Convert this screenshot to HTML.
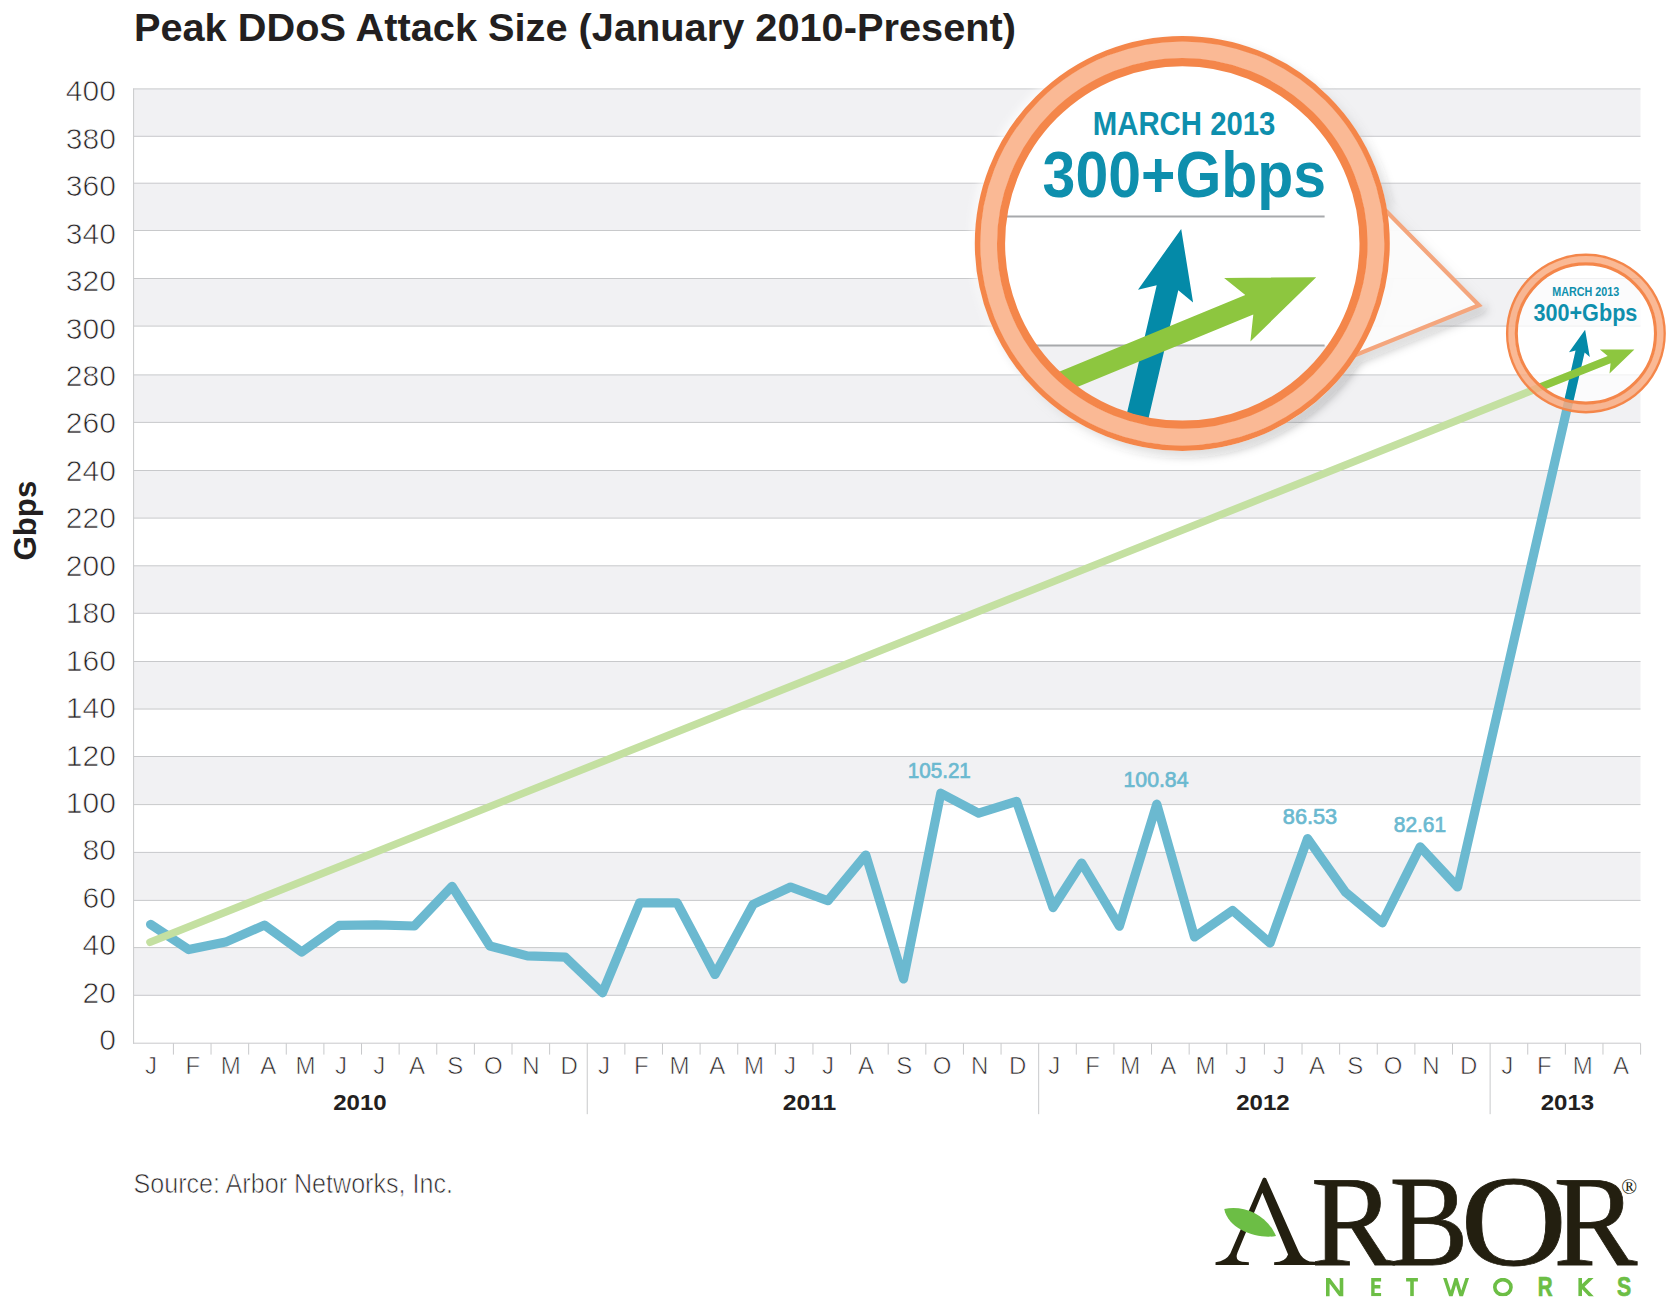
<!DOCTYPE html>
<html><head><meta charset="utf-8"><title>Peak DDoS Attack Size</title>
<style>html,body{margin:0;padding:0;background:#fff;overflow:hidden;}svg{display:block;}text{font-family:"Liberation Sans",sans-serif;}.ser{font-family:"Liberation Serif",serif;}</style></head><body>
<svg width="1674" height="1304" viewBox="0 0 1674 1304">
<defs>
<filter id="sh" x="-20%" y="-20%" width="140%" height="140%"><feGaussianBlur in="SourceAlpha" stdDeviation="5" result="b1"/><feOffset in="b1" dx="4.5" dy="5" result="o1"/><feFlood flood-color="#000" flood-opacity="0.26"/><feComposite in2="o1" operator="in" result="s1"/><feGaussianBlur in="SourceAlpha" stdDeviation="4" result="b2"/><feOffset in="b2" dx="-3" dy="-2" result="o2"/><feFlood flood-color="#fff" flood-opacity="0.85"/><feComposite in2="o2" operator="in" result="s2"/><feMerge><feMergeNode in="s2"/><feMergeNode in="s1"/><feMergeNode in="SourceGraphic"/></feMerge></filter>
<clipPath id="cbig"><circle cx="1182.3" cy="243.4" r="178"/></clipPath>
<clipPath id="csm"><circle cx="1585.9" cy="333.5" r="68.6"/></clipPath>
</defs>
<rect width="1674" height="1304" fill="#fff"/>
<text x="133.9" y="40.9" font-size="39.5" font-weight="bold" fill="#231f20" textLength="882.1" lengthAdjust="spacingAndGlyphs">Peak DDoS Attack Size (January 2010-Present)</text>
<rect x="133.6" y="947.60" width="1506.9" height="47.70" fill="#f1f1f3"/>
<rect x="133.6" y="852.40" width="1506.9" height="48.00" fill="#f1f1f3"/>
<rect x="133.6" y="756.50" width="1506.9" height="48.10" fill="#f1f1f3"/>
<rect x="133.6" y="661.50" width="1506.9" height="47.55" fill="#f1f1f3"/>
<rect x="133.6" y="565.80" width="1506.9" height="47.50" fill="#f1f1f3"/>
<rect x="133.6" y="470.50" width="1506.9" height="47.60" fill="#f1f1f3"/>
<rect x="133.6" y="374.90" width="1506.9" height="47.50" fill="#f1f1f3"/>
<rect x="133.6" y="278.50" width="1506.9" height="47.60" fill="#f1f1f3"/>
<rect x="133.6" y="183.20" width="1506.9" height="47.30" fill="#f1f1f3"/>
<rect x="133.6" y="88.90" width="1506.9" height="47.40" fill="#f1f1f3"/>
<line x1="133.6" y1="1043.20" x2="1640.5" y2="1043.20" stroke="#c8c9cb" stroke-width="1"/>
<line x1="133.6" y1="995.30" x2="1640.5" y2="995.30" stroke="#c8c9cb" stroke-width="1"/>
<line x1="133.6" y1="947.60" x2="1640.5" y2="947.60" stroke="#c8c9cb" stroke-width="1"/>
<line x1="133.6" y1="900.40" x2="1640.5" y2="900.40" stroke="#c8c9cb" stroke-width="1"/>
<line x1="133.6" y1="852.40" x2="1640.5" y2="852.40" stroke="#c8c9cb" stroke-width="1"/>
<line x1="133.6" y1="804.60" x2="1640.5" y2="804.60" stroke="#c8c9cb" stroke-width="1"/>
<line x1="133.6" y1="756.50" x2="1640.5" y2="756.50" stroke="#c8c9cb" stroke-width="1"/>
<line x1="133.6" y1="709.05" x2="1640.5" y2="709.05" stroke="#c8c9cb" stroke-width="1"/>
<line x1="133.6" y1="661.50" x2="1640.5" y2="661.50" stroke="#c8c9cb" stroke-width="1"/>
<line x1="133.6" y1="613.30" x2="1640.5" y2="613.30" stroke="#c8c9cb" stroke-width="1"/>
<line x1="133.6" y1="565.80" x2="1640.5" y2="565.80" stroke="#c8c9cb" stroke-width="1"/>
<line x1="133.6" y1="518.10" x2="1640.5" y2="518.10" stroke="#c8c9cb" stroke-width="1"/>
<line x1="133.6" y1="470.50" x2="1640.5" y2="470.50" stroke="#c8c9cb" stroke-width="1"/>
<line x1="133.6" y1="422.40" x2="1640.5" y2="422.40" stroke="#c8c9cb" stroke-width="1"/>
<line x1="133.6" y1="374.90" x2="1640.5" y2="374.90" stroke="#c8c9cb" stroke-width="1"/>
<line x1="133.6" y1="326.10" x2="1640.5" y2="326.10" stroke="#c8c9cb" stroke-width="1"/>
<line x1="133.6" y1="278.50" x2="1640.5" y2="278.50" stroke="#c8c9cb" stroke-width="1"/>
<line x1="133.6" y1="230.50" x2="1640.5" y2="230.50" stroke="#c8c9cb" stroke-width="1"/>
<line x1="133.6" y1="183.20" x2="1640.5" y2="183.20" stroke="#c8c9cb" stroke-width="1"/>
<line x1="133.6" y1="136.30" x2="1640.5" y2="136.30" stroke="#c8c9cb" stroke-width="1"/>
<line x1="133.6" y1="88.90" x2="1640.5" y2="88.90" stroke="#c8c9cb" stroke-width="1"/>
<line x1="133.6" y1="88.30" x2="133.6" y2="1043.90" stroke="#c8c9cb" stroke-width="1"/>
<line x1="173.42" y1="1043.30" x2="173.42" y2="1054.6" stroke="#c8c9cb" stroke-width="1"/>
<line x1="211.04" y1="1043.30" x2="211.04" y2="1054.6" stroke="#c8c9cb" stroke-width="1"/>
<line x1="248.66" y1="1043.30" x2="248.66" y2="1054.6" stroke="#c8c9cb" stroke-width="1"/>
<line x1="286.28" y1="1043.30" x2="286.28" y2="1054.6" stroke="#c8c9cb" stroke-width="1"/>
<line x1="323.90" y1="1043.30" x2="323.90" y2="1054.6" stroke="#c8c9cb" stroke-width="1"/>
<line x1="361.52" y1="1043.30" x2="361.52" y2="1054.6" stroke="#c8c9cb" stroke-width="1"/>
<line x1="399.14" y1="1043.30" x2="399.14" y2="1054.6" stroke="#c8c9cb" stroke-width="1"/>
<line x1="436.76" y1="1043.30" x2="436.76" y2="1054.6" stroke="#c8c9cb" stroke-width="1"/>
<line x1="474.38" y1="1043.30" x2="474.38" y2="1054.6" stroke="#c8c9cb" stroke-width="1"/>
<line x1="512.00" y1="1043.30" x2="512.00" y2="1054.6" stroke="#c8c9cb" stroke-width="1"/>
<line x1="549.62" y1="1043.30" x2="549.62" y2="1054.6" stroke="#c8c9cb" stroke-width="1"/>
<line x1="587.24" y1="1043.30" x2="587.24" y2="1114.2" stroke="#c8c9cb" stroke-width="1"/>
<line x1="624.86" y1="1043.30" x2="624.86" y2="1054.6" stroke="#c8c9cb" stroke-width="1"/>
<line x1="662.48" y1="1043.30" x2="662.48" y2="1054.6" stroke="#c8c9cb" stroke-width="1"/>
<line x1="700.10" y1="1043.30" x2="700.10" y2="1054.6" stroke="#c8c9cb" stroke-width="1"/>
<line x1="737.72" y1="1043.30" x2="737.72" y2="1054.6" stroke="#c8c9cb" stroke-width="1"/>
<line x1="775.34" y1="1043.30" x2="775.34" y2="1054.6" stroke="#c8c9cb" stroke-width="1"/>
<line x1="812.96" y1="1043.30" x2="812.96" y2="1054.6" stroke="#c8c9cb" stroke-width="1"/>
<line x1="850.58" y1="1043.30" x2="850.58" y2="1054.6" stroke="#c8c9cb" stroke-width="1"/>
<line x1="888.20" y1="1043.30" x2="888.20" y2="1054.6" stroke="#c8c9cb" stroke-width="1"/>
<line x1="925.82" y1="1043.30" x2="925.82" y2="1054.6" stroke="#c8c9cb" stroke-width="1"/>
<line x1="963.44" y1="1043.30" x2="963.44" y2="1054.6" stroke="#c8c9cb" stroke-width="1"/>
<line x1="1001.06" y1="1043.30" x2="1001.06" y2="1054.6" stroke="#c8c9cb" stroke-width="1"/>
<line x1="1038.68" y1="1043.30" x2="1038.68" y2="1114.2" stroke="#c8c9cb" stroke-width="1"/>
<line x1="1076.30" y1="1043.30" x2="1076.30" y2="1054.6" stroke="#c8c9cb" stroke-width="1"/>
<line x1="1113.92" y1="1043.30" x2="1113.92" y2="1054.6" stroke="#c8c9cb" stroke-width="1"/>
<line x1="1151.54" y1="1043.30" x2="1151.54" y2="1054.6" stroke="#c8c9cb" stroke-width="1"/>
<line x1="1189.16" y1="1043.30" x2="1189.16" y2="1054.6" stroke="#c8c9cb" stroke-width="1"/>
<line x1="1226.78" y1="1043.30" x2="1226.78" y2="1054.6" stroke="#c8c9cb" stroke-width="1"/>
<line x1="1264.40" y1="1043.30" x2="1264.40" y2="1054.6" stroke="#c8c9cb" stroke-width="1"/>
<line x1="1302.02" y1="1043.30" x2="1302.02" y2="1054.6" stroke="#c8c9cb" stroke-width="1"/>
<line x1="1339.64" y1="1043.30" x2="1339.64" y2="1054.6" stroke="#c8c9cb" stroke-width="1"/>
<line x1="1377.26" y1="1043.30" x2="1377.26" y2="1054.6" stroke="#c8c9cb" stroke-width="1"/>
<line x1="1414.88" y1="1043.30" x2="1414.88" y2="1054.6" stroke="#c8c9cb" stroke-width="1"/>
<line x1="1452.50" y1="1043.30" x2="1452.50" y2="1054.6" stroke="#c8c9cb" stroke-width="1"/>
<line x1="1490.12" y1="1043.30" x2="1490.12" y2="1114.2" stroke="#c8c9cb" stroke-width="1"/>
<line x1="1527.74" y1="1043.30" x2="1527.74" y2="1054.6" stroke="#c8c9cb" stroke-width="1"/>
<line x1="1565.36" y1="1043.30" x2="1565.36" y2="1054.6" stroke="#c8c9cb" stroke-width="1"/>
<line x1="1602.98" y1="1043.30" x2="1602.98" y2="1054.6" stroke="#c8c9cb" stroke-width="1"/>
<line x1="1640.60" y1="1043.30" x2="1640.60" y2="1054.6" stroke="#c8c9cb" stroke-width="1"/>
<text x="115.9" y="1050.10" font-size="30" fill="#2a2628" stroke="#fff" stroke-width="0.75" text-anchor="end">0</text>
<text x="115.9" y="1002.67" font-size="30" fill="#2a2628" stroke="#fff" stroke-width="0.75" text-anchor="end">20</text>
<text x="115.9" y="955.23" font-size="30" fill="#2a2628" stroke="#fff" stroke-width="0.75" text-anchor="end">40</text>
<text x="115.9" y="907.80" font-size="30" fill="#2a2628" stroke="#fff" stroke-width="0.75" text-anchor="end">60</text>
<text x="115.9" y="860.36" font-size="30" fill="#2a2628" stroke="#fff" stroke-width="0.75" text-anchor="end">80</text>
<text x="115.9" y="812.93" font-size="30" fill="#2a2628" stroke="#fff" stroke-width="0.75" text-anchor="end">100</text>
<text x="115.9" y="765.50" font-size="30" fill="#2a2628" stroke="#fff" stroke-width="0.75" text-anchor="end">120</text>
<text x="115.9" y="718.06" font-size="30" fill="#2a2628" stroke="#fff" stroke-width="0.75" text-anchor="end">140</text>
<text x="115.9" y="670.63" font-size="30" fill="#2a2628" stroke="#fff" stroke-width="0.75" text-anchor="end">160</text>
<text x="115.9" y="623.19" font-size="30" fill="#2a2628" stroke="#fff" stroke-width="0.75" text-anchor="end">180</text>
<text x="115.9" y="575.76" font-size="30" fill="#2a2628" stroke="#fff" stroke-width="0.75" text-anchor="end">200</text>
<text x="115.9" y="528.33" font-size="30" fill="#2a2628" stroke="#fff" stroke-width="0.75" text-anchor="end">220</text>
<text x="115.9" y="480.89" font-size="30" fill="#2a2628" stroke="#fff" stroke-width="0.75" text-anchor="end">240</text>
<text x="115.9" y="433.46" font-size="30" fill="#2a2628" stroke="#fff" stroke-width="0.75" text-anchor="end">260</text>
<text x="115.9" y="386.02" font-size="30" fill="#2a2628" stroke="#fff" stroke-width="0.75" text-anchor="end">280</text>
<text x="115.9" y="338.59" font-size="30" fill="#2a2628" stroke="#fff" stroke-width="0.75" text-anchor="end">300</text>
<text x="115.9" y="291.16" font-size="30" fill="#2a2628" stroke="#fff" stroke-width="0.75" text-anchor="end">320</text>
<text x="115.9" y="243.72" font-size="30" fill="#2a2628" stroke="#fff" stroke-width="0.75" text-anchor="end">340</text>
<text x="115.9" y="196.29" font-size="30" fill="#2a2628" stroke="#fff" stroke-width="0.75" text-anchor="end">360</text>
<text x="115.9" y="148.85" font-size="30" fill="#2a2628" stroke="#fff" stroke-width="0.75" text-anchor="end">380</text>
<text x="115.9" y="101.42" font-size="30" fill="#2a2628" stroke="#fff" stroke-width="0.75" text-anchor="end">400</text>
<text x="151.12" y="1073.6" font-size="24" fill="#2a2628" stroke="#fff" stroke-width="0.65" text-anchor="middle">J</text>
<text x="192.91" y="1073.6" font-size="24" fill="#2a2628" stroke="#fff" stroke-width="0.65" text-anchor="middle">F</text>
<text x="230.82" y="1073.6" font-size="24" fill="#2a2628" stroke="#fff" stroke-width="0.65" text-anchor="middle">M</text>
<text x="268.36" y="1073.6" font-size="24" fill="#2a2628" stroke="#fff" stroke-width="0.65" text-anchor="middle">A</text>
<text x="305.42" y="1073.6" font-size="24" fill="#2a2628" stroke="#fff" stroke-width="0.65" text-anchor="middle">M</text>
<text x="341.12" y="1073.6" font-size="24" fill="#2a2628" stroke="#fff" stroke-width="0.65" text-anchor="middle">J</text>
<text x="379.22" y="1073.6" font-size="24" fill="#2a2628" stroke="#fff" stroke-width="0.65" text-anchor="middle">J</text>
<text x="417.06" y="1073.6" font-size="24" fill="#2a2628" stroke="#fff" stroke-width="0.65" text-anchor="middle">A</text>
<text x="455.36" y="1073.6" font-size="24" fill="#2a2628" stroke="#fff" stroke-width="0.65" text-anchor="middle">S</text>
<text x="493.39" y="1073.6" font-size="24" fill="#2a2628" stroke="#fff" stroke-width="0.65" text-anchor="middle">O</text>
<text x="530.81" y="1073.6" font-size="24" fill="#2a2628" stroke="#fff" stroke-width="0.65" text-anchor="middle">N</text>
<text x="569.17" y="1073.6" font-size="24" fill="#2a2628" stroke="#fff" stroke-width="0.65" text-anchor="middle">D</text>
<text x="603.92" y="1073.6" font-size="24" fill="#2a2628" stroke="#fff" stroke-width="0.65" text-anchor="middle">J</text>
<text x="641.41" y="1073.6" font-size="24" fill="#2a2628" stroke="#fff" stroke-width="0.65" text-anchor="middle">F</text>
<text x="679.42" y="1073.6" font-size="24" fill="#2a2628" stroke="#fff" stroke-width="0.65" text-anchor="middle">M</text>
<text x="717.36" y="1073.6" font-size="24" fill="#2a2628" stroke="#fff" stroke-width="0.65" text-anchor="middle">A</text>
<text x="754.12" y="1073.6" font-size="24" fill="#2a2628" stroke="#fff" stroke-width="0.65" text-anchor="middle">M</text>
<text x="790.02" y="1073.6" font-size="24" fill="#2a2628" stroke="#fff" stroke-width="0.65" text-anchor="middle">J</text>
<text x="827.92" y="1073.6" font-size="24" fill="#2a2628" stroke="#fff" stroke-width="0.65" text-anchor="middle">J</text>
<text x="865.96" y="1073.6" font-size="24" fill="#2a2628" stroke="#fff" stroke-width="0.65" text-anchor="middle">A</text>
<text x="904.16" y="1073.6" font-size="24" fill="#2a2628" stroke="#fff" stroke-width="0.65" text-anchor="middle">S</text>
<text x="941.99" y="1073.6" font-size="24" fill="#2a2628" stroke="#fff" stroke-width="0.65" text-anchor="middle">O</text>
<text x="979.71" y="1073.6" font-size="24" fill="#2a2628" stroke="#fff" stroke-width="0.65" text-anchor="middle">N</text>
<text x="1017.67" y="1073.6" font-size="24" fill="#2a2628" stroke="#fff" stroke-width="0.65" text-anchor="middle">D</text>
<text x="1054.32" y="1073.6" font-size="24" fill="#2a2628" stroke="#fff" stroke-width="0.65" text-anchor="middle">J</text>
<text x="1092.61" y="1073.6" font-size="24" fill="#2a2628" stroke="#fff" stroke-width="0.65" text-anchor="middle">F</text>
<text x="1130.22" y="1073.6" font-size="24" fill="#2a2628" stroke="#fff" stroke-width="0.65" text-anchor="middle">M</text>
<text x="1168.16" y="1073.6" font-size="24" fill="#2a2628" stroke="#fff" stroke-width="0.65" text-anchor="middle">A</text>
<text x="1205.42" y="1073.6" font-size="24" fill="#2a2628" stroke="#fff" stroke-width="0.65" text-anchor="middle">M</text>
<text x="1241.02" y="1073.6" font-size="24" fill="#2a2628" stroke="#fff" stroke-width="0.65" text-anchor="middle">J</text>
<text x="1279.12" y="1073.6" font-size="24" fill="#2a2628" stroke="#fff" stroke-width="0.65" text-anchor="middle">J</text>
<text x="1316.96" y="1073.6" font-size="24" fill="#2a2628" stroke="#fff" stroke-width="0.65" text-anchor="middle">A</text>
<text x="1355.26" y="1073.6" font-size="24" fill="#2a2628" stroke="#fff" stroke-width="0.65" text-anchor="middle">S</text>
<text x="1393.09" y="1073.6" font-size="24" fill="#2a2628" stroke="#fff" stroke-width="0.65" text-anchor="middle">O</text>
<text x="1431.01" y="1073.6" font-size="24" fill="#2a2628" stroke="#fff" stroke-width="0.65" text-anchor="middle">N</text>
<text x="1468.67" y="1073.6" font-size="24" fill="#2a2628" stroke="#fff" stroke-width="0.65" text-anchor="middle">D</text>
<text x="1507.32" y="1073.6" font-size="24" fill="#2a2628" stroke="#fff" stroke-width="0.65" text-anchor="middle">J</text>
<text x="1544.41" y="1073.6" font-size="24" fill="#2a2628" stroke="#fff" stroke-width="0.65" text-anchor="middle">F</text>
<text x="1582.72" y="1073.6" font-size="24" fill="#2a2628" stroke="#fff" stroke-width="0.65" text-anchor="middle">M</text>
<text x="1620.96" y="1073.6" font-size="24" fill="#2a2628" stroke="#fff" stroke-width="0.65" text-anchor="middle">A</text>
<text x="360" y="1110" font-size="22" font-weight="bold" fill="#231f20" text-anchor="middle" textLength="53.5" lengthAdjust="spacingAndGlyphs">2010</text>
<text x="809.5" y="1110" font-size="22" font-weight="bold" fill="#231f20" text-anchor="middle" textLength="53.5" lengthAdjust="spacingAndGlyphs">2011</text>
<text x="1263" y="1110" font-size="22" font-weight="bold" fill="#231f20" text-anchor="middle" textLength="53.5" lengthAdjust="spacingAndGlyphs">2012</text>
<text x="1567.5" y="1110" font-size="22" font-weight="bold" fill="#231f20" text-anchor="middle" textLength="53.5" lengthAdjust="spacingAndGlyphs">2013</text>
<text transform="translate(35.8,560.6) rotate(-90)" font-size="31.5" font-weight="bold" fill="#231f20" textLength="80" lengthAdjust="spacingAndGlyphs">Gbps</text>
<text x="133.5" y="1192.6" font-size="27" fill="#2a2628" stroke="#fff" stroke-width="0.7" textLength="319.5" lengthAdjust="spacingAndGlyphs">Source: Arbor Networks, Inc.</text>
<path d="M150.6,924.4 L188.8,949.6 L225.6,942.1 L264.4,925.1 L301.7,952.0 L339.1,925.4 L376.4,924.8 L414.3,926.0 L452.0,886.3 L489.9,946.0 L527.3,955.9 L565.2,957.1 L602.5,992.8 L639.7,902.8 L677.1,902.8 L715.0,974.5 L753.2,904.3 L790.6,887.0 L827.9,900.7 L865.8,855.0 L903.5,979.0 L940.8,793.2 L978.7,813.2 L1016.5,801.3 L1053.0,907.6 L1081.7,863.0 L1119.4,926.2 L1156.8,804.2 L1194.5,937.0 L1232.5,910.4 L1270.0,943.1 L1307.6,838.6 L1345.6,892.3 L1382.3,922.8 L1420.2,846.9 L1457.6,887.0 L1580.6,349.2" fill="none" stroke="#6bb9d0" stroke-width="9.2" stroke-linejoin="round" stroke-linecap="round"/>
<line x1="150.0" y1="942.2" x2="1610" y2="359.34" stroke="#c4e0a1" stroke-width="7.6" stroke-linecap="round"/>
<text x="907.8" y="778.2" font-size="22" fill="#6bb9d0" stroke="#6bb9d0" stroke-width="0.7" textLength="63" lengthAdjust="spacingAndGlyphs">105.21</text>
<text x="1123.5" y="787.4" font-size="22" fill="#6bb9d0" stroke="#6bb9d0" stroke-width="0.7" textLength="65" lengthAdjust="spacingAndGlyphs">100.84</text>
<text x="1282.8" y="824.2" font-size="22" fill="#6bb9d0" stroke="#6bb9d0" stroke-width="0.7" textLength="54.4" lengthAdjust="spacingAndGlyphs">86.53</text>
<text x="1393.8" y="832" font-size="22" fill="#6bb9d0" stroke="#6bb9d0" stroke-width="0.7" textLength="52.3" lengthAdjust="spacingAndGlyphs">82.61</text>
<circle cx="1585.9" cy="333.5" r="68.6" fill="#fff" fill-opacity="0.72"/>
<g clip-path="url(#csm)">
<path d="M1585.1,329.7 L1569.0,352.3 L1575.6,350.4 L1553.9,445.7 L1562.8,447.7 L1584.6,352.5 L1589.8,357.0 Z" fill="#048aa8"/>
<path d="M1634.4,349.6 L1599.9,349.5 L1607.7,356.1 L1484.4,405.3 L1487.2,412.5 L1610.6,363.3 L1609.5,373.4 Z" fill="#8dc63f"/>
</g>
<circle cx="1585.9" cy="333.5" r="74.35" fill="none" stroke="#f9a87b" stroke-width="7.2" stroke-opacity="0.8"/>
<circle cx="1585.9" cy="333.5" r="78.75" fill="none" stroke="#f4864a" stroke-width="2.4"/>
<circle cx="1585.9" cy="333.5" r="69.6" fill="none" stroke="#f4864a" stroke-width="3.1"/>
<text x="1552.2" y="296.4" font-size="12.2" font-weight="bold" fill="#0e8fad" textLength="67" lengthAdjust="spacingAndGlyphs">MARCH 2013</text>
<text x="1533.4" y="320.8" font-size="23.5" font-weight="bold" fill="#0e8fad" textLength="104" lengthAdjust="spacingAndGlyphs">300+Gbps</text>
<g filter="url(#sh)">
<path d="M1375,199.8 L1479,305.3 L1352,356.5 Z" fill="#fff" fill-opacity="0.84" stroke="#f4a67d" stroke-width="4.2" stroke-linejoin="miter"/>
<circle cx="1182.3" cy="243.4" r="207.3" fill="#fff"/>
</g>
<g clip-path="url(#cbig)">
<rect x="950" y="345.5" width="480" height="120" fill="#f1f1f3"/>
<line x1="990" y1="216.5" x2="1324.6" y2="216.5" stroke="#a7a9ac" stroke-width="2"/>
<line x1="990" y1="345.5" x2="1324.6" y2="345.5" stroke="#a7a9ac" stroke-width="2"/>
<path d="M1181.2,228.9 L1138.0,289.7 L1156.7,285.3 L1111.5,479.6 L1133.1,484.6 L1178.3,290.3 L1193.1,302.5 Z" fill="#048aa8"/>
<path d="M1316.2,277.2 L1224.1,277.9 L1245.3,295.1 L979.4,404.7 L987.4,424.1 L1253.3,314.5 L1250.4,341.5 Z" fill="#8dc63f"/>
</g>
<circle cx="1182.3" cy="243.4" r="193.65" fill="none" stroke="#fab995" stroke-width="17.5"/>
<circle cx="1182.3" cy="243.4" r="204.75" fill="none" stroke="#f4864a" stroke-width="5.5"/>
<circle cx="1182.3" cy="243.4" r="181.25" fill="none" stroke="#f4864a" stroke-width="8.1"/>
<text x="1092.8" y="135.2" font-size="33.6" font-weight="bold" fill="#0e8fad" textLength="182.6" lengthAdjust="spacingAndGlyphs">MARCH 2013</text>
<text x="1042.6" y="197" font-size="65.4" font-weight="bold" fill="#0e8fad" textLength="283.5" lengthAdjust="spacingAndGlyphs">300+Gbps</text>
<g transform="translate(1205,1165) scale(0.08434)">
<path fill="#231f10" d="M700,148 L724,156 L1112,1030 Q1150,1118 1240,1143 L1420,1152 L1420,1185 L820,1185 L820,1152 Q955,1150 985,1060 L680,330 L385,1040 Q350,1130 440,1148 L520,1152 L520,1185 L125,1185 L125,1152 Q250,1140 300,1050 L685,160 Z"/>
<path fill="#6cbe45" d="M228,522 C430,470 730,570 842,842 C640,880 280,780 228,522 Z"/>
</g>
<text class="ser" transform="translate(1311.0,1264.6) scale(0.98,1)" font-size="128.3" fill="#231f10" stroke="#231f10" stroke-width="0.8">R</text>
<text class="ser" transform="translate(1389.6,1264.6) scale(0.922,1)" font-size="128.3" fill="#231f10" stroke="#231f10" stroke-width="0.8">B</text>
<text class="ser" transform="translate(1460.6,1264.6) scale(1.15,1.012)" font-size="128.3" fill="#231f10" stroke="#231f10" stroke-width="0.8">O</text>
<text class="ser" transform="translate(1553.4,1264.6) scale(0.98,1)" font-size="128.3" fill="#231f10" stroke="#231f10" stroke-width="0.8">R</text>
<text class="ser" x="1621.2" y="1194" font-size="20.9" fill="#231f10">®</text>
<clipPath id="ncap"><rect x="1320" y="1278.1" width="330" height="18.2"/></clipPath>
<g clip-path="url(#ncap)" fill="none" stroke="#6cbe45" stroke-width="3.6" stroke-linejoin="miter" stroke-miterlimit="10">
<path d="M1327.8,1299.3 L1327.8,1278.1 L1341.5,1296.3 L1341.5,1275.1"/>
<path d="M1381.1,1279.8 L1372.9,1279.8 L1372.9,1294.6 L1381.1,1294.6 M1372.9,1286.8 L1380.3,1286.8" stroke-width="3.4"/>
<path d="M1406.1,1279.8 L1417.9,1279.8 M1412,1278.1 L1412,1296.3"/>
<path d="M1443.9,1275.1 L1450.9,1296.3 L1456.05,1279.1 L1461.2,1296.3 L1468.2,1275.1" stroke-width="3.4"/>
<ellipse cx="1502.9" cy="1287.2" rx="8.1" ry="7.6"/>
<path d="M1580.2,1278.1 L1580.2,1296.3 M1593,1276.1 L1582,1286.6 L1593.2,1298.3"/>
</g>
<text transform="translate(1537.66,1296.3) scale(0.769,1)" font-size="26.8" font-weight="bold" fill="#6cbe45" stroke="#6cbe45" stroke-width="0.7">R</text>
<text transform="translate(1617.07,1296.3) scale(0.795,1)" font-size="26.8" font-weight="bold" fill="#6cbe45" stroke="#6cbe45" stroke-width="0.7">S</text>
</svg></body></html>
